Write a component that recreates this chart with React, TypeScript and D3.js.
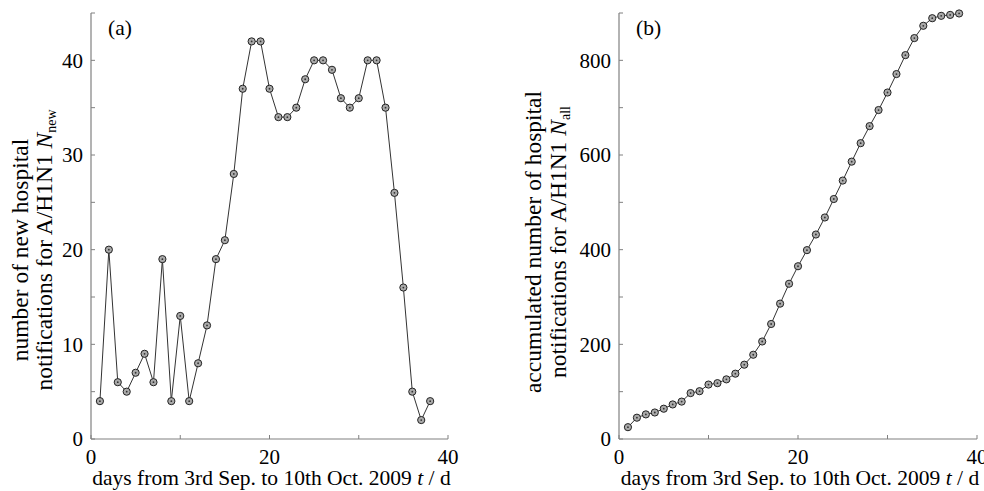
import { useEffect, useRef } from "react";
import * as d3 from "d3";

const days = d3.range(1, 39);
const newCases = [4, 20, 6, 5, 7, 9, 6, 19, 4, 13, 4, 8, 12, 19, 21, 28, 37, 42, 42, 37, 34, 34, 35, 38, 40, 40, 39, 36, 35, 36, 40, 40, 35, 26, 16, 5, 2, 4];
const allCases = [25, 45, 52, 56, 64, 73, 79, 97, 101, 115, 118, 126, 138, 157, 178, 206, 243, 286, 328, 365, 399, 432, 468, 507, 546, 586, 625, 661, 695, 732, 771, 811, 847, 873, 889, 894, 896, 899];
const xTickLabels = [0, 20, 40];
const yTicksA = [0, 10, 20, 30, 40];
const yTicksB = [0, 200, 400, 600, 800];

const FONT = "'Liberation Serif', 'DejaVu Serif', serif";

function drawPanel(svg, opts) {
  const { left, right, top, bottom, values, yMax, yMinorStep, yLabels, tag, line1, line2, sub, l1x, l2x, cy } = opts;
  const x = d3.scaleLinear().domain([0, 40]).range([left, right]);
  const y = d3.scaleLinear().domain([0, yMax]).range([bottom, top]);
  const g = svg.append("g");
  const axisColor = "#808080";

  // axes
  g.append("line").attr("x1", left).attr("x2", left).attr("y1", top).attr("y2", bottom)
    .attr("stroke", axisColor).attr("stroke-width", 1.2);
  g.append("line").attr("x1", left).attr("x2", right).attr("y1", bottom).attr("y2", bottom)
    .attr("stroke", axisColor).attr("stroke-width", 1.2);

  // y ticks (inside)
  const yt = d3.range(0, yMax + 0.001, yMinorStep);
  g.selectAll(".yt").data(yt).enter().append("line")
    .attr("x1", left).attr("x2", left + 4)
    .attr("y1", d => y(d)).attr("y2", d => y(d))
    .attr("stroke", axisColor);
  g.selectAll(".yl").data(yLabels).enter().append("text")
    .attr("x", left - 8).attr("y", d => y(d)).attr("dy", "0.35em")
    .attr("text-anchor", "end").attr("font-family", FONT).attr("font-size", 21)
    .text(d => d);

  // x ticks
  g.selectAll(".xt").data([0, 10, 20, 30, 40]).enter().append("line")
    .attr("x1", d => x(d)).attr("x2", d => x(d))
    .attr("y1", bottom).attr("y2", bottom - 4)
    .attr("stroke", axisColor);
  g.selectAll(".xl").data(xTickLabels).enter().append("text")
    .attr("x", d => x(d)).attr("y", bottom + 25)
    .attr("text-anchor", "middle").attr("font-family", FONT).attr("font-size", 21)
    .text(d => d);

  // x title
  const xt = g.append("text").attr("x", (left + right) / 2 + 2).attr("y", bottom + 46)
    .attr("text-anchor", "middle").attr("font-family", FONT).attr("font-size", 21.5);
  xt.append("tspan").text("days from 3rd Sep. to 10th Oct. 2009 ");
  xt.append("tspan").attr("font-style", "italic").text("t");
  xt.append("tspan").text(" / d");

  // y title (two lines)
  g.append("text").attr("transform", `translate(${l1x},${cy}) rotate(-90)`)
    .attr("text-anchor", "middle").attr("font-family", FONT).attr("font-size", 23.5)
    .text(line1);
  const t2 = g.append("text").attr("transform", `translate(${l2x},${cy}) rotate(-90)`)
    .attr("text-anchor", "middle").attr("font-family", FONT).attr("font-size", 23.5);
  t2.append("tspan").text(line2);
  t2.append("tspan").attr("font-style", "italic").text("N");
  t2.append("tspan").attr("font-size", 14).attr("dy", 4).text(sub);

  // panel tag
  g.append("text").attr("x", left + 17).attr("y", top + 22)
    .attr("font-family", FONT).attr("font-size", 21.5).text(tag);

  // line + markers
  const pts = days.map((d, i) => [d, values[i]]);
  g.append("path").datum(pts)
    .attr("d", d3.line().x(d => x(d[0])).y(d => y(d[1])))
    .attr("fill", "none").attr("stroke", "#333").attr("stroke-width", 1);
  g.selectAll(".pt").data(pts).enter().append("circle")
    .attr("cx", d => x(d[0])).attr("cy", d => y(d[1])).attr("r", 3.6)
    .attr("fill", "#aaaaaa").attr("stroke", "#222").attr("stroke-width", 1);
  g.selectAll(".dot").data(pts).enter().append("circle")
    .attr("cx", d => x(d[0])).attr("cy", d => y(d[1])).attr("r", 0.9)
    .attr("fill", "#333");
}

export default function App() {
  const ref = useRef(null);
  useEffect(() => {
    const svg = d3.select(ref.current);
    svg.selectAll("*").remove();
    drawPanel(svg, {
      left: 91, right: 448, top: 13, bottom: 439,
      values: newCases, yMax: 45, yMinorStep: 5, yLabels: yTicksA, tag: "(a)",
      line1: "number of new hospital", line2: "notifications for A/H1N1  ", sub: "new",
      l1x: 28, l2x: 52, cy: 250,
    });
    drawPanel(svg, {
      left: 619, right: 977, top: 13, bottom: 439,
      values: allCases, yMax: 900, yMinorStep: 100, yLabels: yTicksB, tag: "(b)",
      line1: "accumulated number of hospital", line2: "notifications for A/H1N1 ", sub: "all",
      l1x: 541, l2x: 566, cy: 242,
    });
  }, []);
  return (
    <svg ref={ref} width={984} height={491}
      style={{ position: "absolute", left: 0, top: 0, background: "#fff" }} />
  );
}
